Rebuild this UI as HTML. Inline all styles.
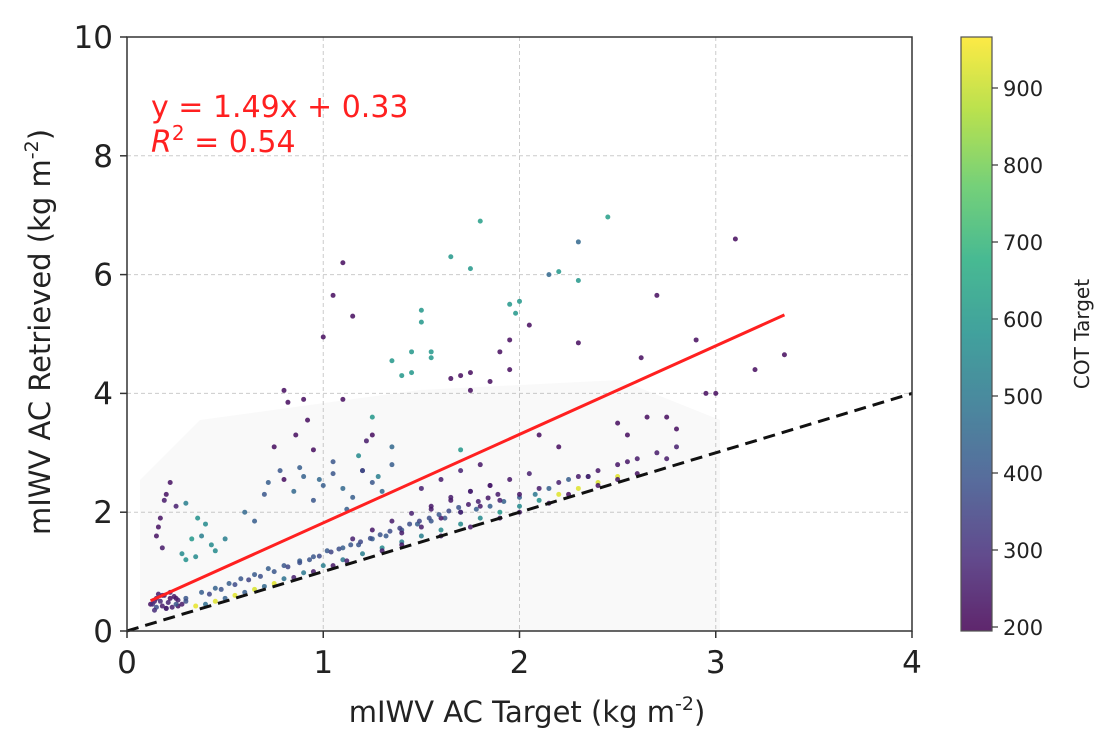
<!DOCTYPE html>
<html><head><meta charset="utf-8"><style>
body{margin:0;background:#fff;}
svg{display:block;font-family:"DejaVu Sans","Liberation Sans",sans-serif;}
</style></head><body>
<svg id="chart" width="1115" height="748" viewBox="0 0 1115 748">
<defs>
<linearGradient id="vir" x1="0" y1="1" x2="0" y2="0">
<stop offset="0" stop-color="#440154"/><stop offset="0.125" stop-color="#472c7a"/><stop offset="0.25" stop-color="#3b528b"/><stop offset="0.375" stop-color="#2c728e"/><stop offset="0.5" stop-color="#21918c"/><stop offset="0.625" stop-color="#28ae80"/><stop offset="0.75" stop-color="#5ec962"/><stop offset="0.875" stop-color="#addc30"/><stop offset="1" stop-color="#fde725"/>
</linearGradient>
<clipPath id="plotclip"><rect x="127" y="37" width="785" height="594"/></clipPath>
</defs>
<g id="grid"></g>
<path d="M140 631 L140 480 L200 420 L420 390 L620 380 L720 420 L720 631 Z" fill="#888" opacity="0.05"/>
<g id="points" clip-path="url(#plotclip)"></g>
<g id="lines"></g>
<rect x="127" y="37" width="785" height="594" fill="none" stroke="#333" stroke-width="1.5"/>
<g id="axes"></g>
<text x="151" y="117" fill="#ff2020" font-size="30">y = 1.49x + 0.33</text>
<text x="151" y="152" fill="#ff2020" font-size="30"><tspan font-style="italic">R</tspan><tspan dy="-12" font-size="20">2</tspan><tspan dy="12"> = 0.54</tspan></text>
<text x="527" y="722" text-anchor="middle" font-size="29" fill="#222">mIWV AC Target (kg m<tspan dy="-12" font-size="19">-2</tspan><tspan dy="12">)</tspan></text>
<text transform="translate(50,332) rotate(-90)" text-anchor="middle" font-size="29" fill="#222">mIWV AC Retrieved (kg m<tspan dy="-12" font-size="19">-2</tspan><tspan dy="12">)</tspan></text>
<rect x="961" y="37" width="31" height="594" fill="url(#vir)" opacity="0.85" stroke="#333" stroke-width="1.2"/>
<g id="cbticks"></g>
<text transform="translate(1089,334) rotate(-90)" text-anchor="middle" font-size="20" fill="#222">COT Target</text>
</svg>
<script>
const xTicks=[0,1,2,3,4];
const yTicks=[0,2,4,6,8,10];
const cTicks=[200,300,400,500,600,700,800,900];
const fitSlope=1.49, fitIntercept=0.33, fitRange=[0.12,3.35];
const ptX=[1.80,2.45,1.10,1.65,1.75,2.30,2.20,2.30,2.15,3.10,2.70,1.05,1.00,1.15,1.50,1.50,1.45,1.55,1.35,1.40,1.45,1.55,1.95,2.00,1.98,1.95,2.05,2.30,2.62,2.90,2.95,3.35,3.20,3.00,2.75,2.80,2.65,2.50,2.55,1.90,1.95,1.85,1.75,1.75,1.70,1.65,0.80,0.82,0.90,0.92,0.86,0.95,0.75,0.80,1.10,1.25,1.35,1.25,1.70,2.10,2.20,1.20,
0.15,0.17,0.20,0.22,0.18,0.25,0.16,0.28,0.19,0.30,0.33,0.36,0.40,0.43,0.35,0.38,0.30,0.45,0.50,0.12,0.14,0.18,0.22,0.26,
0.60,0.65,0.70,0.72,0.78,0.85,0.90,0.95,1.00,1.05,1.10,1.15,1.20,1.25,1.30,1.05,1.12,1.18,0.88,0.98,1.22,1.35,1.28,
0.30,0.38,0.45,0.52,0.58,0.65,0.72,0.80,0.88,0.95,1.02,1.10,1.18,1.25,1.32,1.40,1.48,1.55,1.62,1.70,1.78,1.85,1.92,2.00,2.08,2.15,2.25,2.35,
0.40,0.50,0.60,0.70,0.80,0.90,1.00,1.10,1.20,1.30,1.40,1.50,1.60,1.70,1.80,1.90,2.00,2.10,2.20,2.30,2.40,2.50,
0.35,0.45,0.55,0.65,0.75,0.85,0.95,1.05,1.12,
1.40,1.50,1.60,1.70,1.80,1.90,2.00,2.10,2.20,2.30,2.40,2.50,2.60,2.70,2.80,2.35,2.55,2.75,1.55,1.65,1.75,1.85,
1.30,1.40,1.60,1.75,1.90,2.00,2.15,2.25,2.40,2.50,2.60,
0.15,0.20,0.25,0.30,
0.42,0.48,0.55,0.62,0.68,0.75,0.82,0.88,0.93,0.98,1.04,1.08,1.14,1.19,1.24,1.29,1.34,1.39,1.44,1.49,1.54,1.59,1.64,1.69,1.74,1.79,1.84,1.89,
1.15,1.25,1.35,1.45,1.55,1.65,1.75,1.85,1.95,2.05,1.50,1.60,1.70,1.80,
0.13,0.15,0.17,0.19,0.21,0.23,0.25,0.14,0.18,0.22,0.26,0.28,0.16,0.20,0.24];
const ptY=[6.90,6.97,6.20,6.30,6.10,6.55,6.05,5.90,6.00,6.60,5.65,5.65,4.95,5.30,5.40,5.20,4.70,4.70,4.55,4.30,4.35,4.60,5.50,5.55,5.35,4.90,5.15,4.85,4.60,4.90,4.00,4.65,4.40,4.00,3.60,3.40,3.60,3.50,3.30,4.70,4.40,4.20,4.35,4.05,4.30,4.25,4.05,3.85,3.90,3.55,3.30,3.05,3.10,2.55,3.90,3.30,3.10,3.60,3.05,3.30,3.10,2.70,
1.60,1.90,2.30,2.50,1.40,2.10,1.75,1.30,2.20,1.20,1.55,1.90,1.80,1.45,1.25,1.60,2.15,1.35,1.55,0.45,0.50,0.60,0.55,0.42,
2.00,1.85,2.30,2.50,2.70,2.35,2.60,2.20,2.45,2.65,2.40,2.25,2.70,2.50,2.35,2.85,2.05,2.95,2.75,2.55,3.20,2.80,2.60,
0.55,0.65,0.72,0.80,0.88,0.95,1.05,1.10,1.18,1.25,1.35,1.40,1.45,1.55,1.60,1.70,1.80,1.85,1.90,2.00,2.05,2.10,2.18,2.25,2.30,2.40,2.55,2.60,
0.45,0.55,0.65,0.75,0.88,0.98,1.10,1.20,1.30,1.40,1.50,1.60,1.70,1.80,1.90,2.00,2.10,2.20,2.30,2.40,2.50,2.60,
0.42,0.50,0.60,0.70,0.80,0.90,1.00,1.10,1.18,
1.65,1.75,1.90,2.00,2.10,2.20,2.30,2.40,2.50,2.60,2.70,2.80,2.90,3.00,3.10,2.60,2.85,2.90,2.05,2.20,2.35,2.45,
1.35,1.45,1.60,1.75,1.90,2.00,2.15,2.30,2.45,2.55,2.65,
0.40,0.38,0.45,0.50,
0.62,0.70,0.78,0.86,0.92,1.00,1.08,1.15,1.20,1.26,1.33,1.38,1.45,1.50,1.56,1.62,1.68,1.73,1.80,1.85,1.90,1.96,2.02,2.08,2.13,2.18,2.24,2.30,
1.55,1.70,1.85,1.98,2.10,2.25,2.35,2.45,2.55,2.65,2.40,2.55,2.70,2.80,
0.45,0.55,0.50,0.60,0.48,0.40,0.55,0.35,0.42,0.65,0.52,0.45,0.62,0.38,0.58];
const ptC=[620,620,220,600,600,450,600,600,450,220,220,220,220,220,600,600,600,600,600,600,600,600,600,600,600,220,220,220,220,220,220,220,220,220,220,220,220,220,220,220,220,220,220,220,220,220,220,220,220,220,220,220,220,220,220,220,450,600,600,220,220,220,
230,230,230,230,250,260,230,560,250,580,600,580,560,560,560,520,520,560,520,230,250,260,230,230,
450,420,400,420,400,450,430,400,420,400,450,420,380,400,450,400,420,560,420,450,250,420,520,
400,420,430,420,400,410,420,400,420,400,410,420,400,420,410,400,420,400,400,420,420,420,430,420,
500,430,420,450,470,430,420,450,480,500,520,500,520,560,520,520,560,560,560,600,560,580,
930,930,920,930,940,930,930,920,930,
260,250,240,260,250,250,240,260,250,260,240,250,260,250,240,240,250,250,260,250,240,250,
250,240,260,240,250,240,260,240,250,250,240,
220,230,240,230,
380,360,400,380,360,390,370,350,380,400,360,380,390,370,350,380,400,360,380,390,370,350,380,360,380,400,370,390,
250,260,240,250,260,240,250,260,240,250,260,250,240,260,
260,250,270,240,300,260,280,250,270,260,240,290,250,270,260];

const X0=127,X1=912,Y0=631,Y1=37;
const sx=v=>X0+(v-0)/(4-0)*(X1-X0);
const sy=v=>Y0-(v-0)/(10-0)*(Y0-Y1);
const sc=v=>627-(v-200)*(627-88)/700;
const NS="http://www.w3.org/2000/svg";
function mk(tag,attrs,parent,text){const e=document.createElementNS(NS,tag);for(const k in attrs)e.setAttribute(k,attrs[k]);if(text!==undefined)e.textContent=text;parent.appendChild(e);return e;}
const vir=[[68,1,84],[71,44,122],[59,82,139],[44,114,142],[33,145,140],[40,174,128],[94,201,98],[173,220,48],[253,231,37]];
function cmap(c){if(typeof c!=='number'||isNaN(c))c=250;let t=(c-195)/(966-195);t=Math.max(0,Math.min(1,t))*8;const i=Math.min(7,Math.floor(t)),f=t-i;const a=vir[i],b=vir[i+1];return `rgb(${a.map((v,k)=>Math.round(v+(b[k]-v)*f)).join(',')})`;}

const grid=document.getElementById('grid');
xTicks.slice(1,-1).forEach(t=>{const l=mk('line',{x1:sx(t),x2:sx(t),y1:Y1,y2:Y0,stroke:'#ccc','stroke-dasharray':'4 3','stroke-width':1},grid);

});
yTicks.slice(1,-1).forEach(t=>{const l=mk('line',{x1:X0,x2:X1,y1:sy(t),y2:sy(t),stroke:'#ccc','stroke-dasharray':'4 3','stroke-width':1},grid);

});

const pts=document.getElementById('points');
const nPts=Math.min(ptX.length,ptY.length);
for(let i=0;i<nPts;i++){const c=mk('circle',{cx:sx(ptX[i]),cy:sy(ptY[i]),r:2.5,fill:cmap(ptC[i]),opacity:0.85},pts);

}

const lines=document.getElementById('lines');
const one=mk('line',{x1:sx(0),y1:sy(0),x2:sx(4),y2:sy(4),stroke:'#111','stroke-width':3,'stroke-dasharray':'12 7'},lines);


const fit=mk('line',{x1:sx(fitRange[0]),y1:sy(fitSlope*fitRange[0]+fitIntercept),x2:sx(fitRange[1]),y2:sy(fitSlope*fitRange[1]+fitIntercept),stroke:'#ff2020','stroke-width':3},lines);



const axes=document.getElementById('axes');
xTicks.forEach(t=>{mk('line',{x1:sx(t),x2:sx(t),y1:Y0,y2:Y0+7,stroke:'#333','stroke-width':1.5},axes);
const tx=mk('text',{x:sx(t),y:Y0+42,'text-anchor':'middle','font-size':31,fill:'#222'},axes,String(t));

});
yTicks.forEach(t=>{mk('line',{x1:X0-7,x2:X0,y1:sy(t),y2:sy(t),stroke:'#333','stroke-width':1.5},axes);
const tx=mk('text',{x:X0-14,y:sy(t)+11,'text-anchor':'end','font-size':31,fill:'#222'},axes,String(t));

});
const cb=document.getElementById('cbticks');
cTicks.forEach(t=>{mk('line',{x1:992,x2:998,y1:sc(t),y2:sc(t),stroke:'#333','stroke-width':1.2},cb);
const tx=mk('text',{x:1003,y:sc(t)+8,'font-size':21,fill:'#222'},cb,String(t));

});
</script>
</body></html>
